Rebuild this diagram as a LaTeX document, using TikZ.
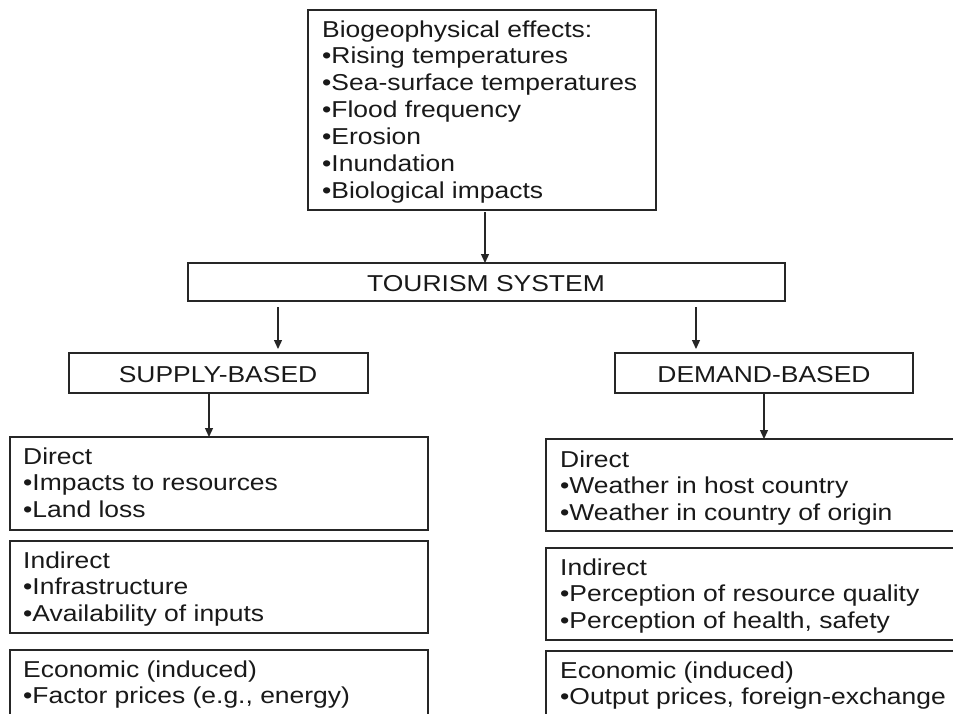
\documentclass[tikz,border=0pt]{standalone}
\usepackage{fontspec}
\setmainfont[FakeStretch=1.15]{Liberation Sans}
\usetikzlibrary{arrows.meta}
\tikzset{
  box/.style={draw=black!85, line width=1.8pt, inner sep=0pt, outer sep=0pt, anchor=north west},
  txt/.style={inner sep=0pt, text=black!90, font=\fontsize{23}{26.9}\selectfont},
  arr/.style={draw=black!85, line width=1.3pt, -{Triangle[length=9pt,width=8pt]}}
}
\begin{document}
\begin{tikzpicture}[x=1pt, y=-1pt]
\useasboundingbox (0,0) rectangle (953,713);
\clip (0,0) rectangle (953,713);
% boxes
\node[box, minimum width=348pt, minimum height=200pt] (top) at (308,10) {};
\node[box, minimum width=597pt, minimum height=38pt] (tour) at (188,263) {};
\node[box, minimum width=299pt, minimum height=40pt] (supply) at (69,353) {};
\node[box, minimum width=298pt, minimum height=40pt] (demand) at (615,353) {};
\node[box, minimum width=418pt, minimum height=93pt] (sdir) at (10,437) {};
\node[box, minimum width=418pt, minimum height=92pt] (sind) at (10,541) {};
\node[box, minimum width=418pt, minimum height=100pt] (seco) at (10,650) {};
\node[box, minimum width=430pt, minimum height=92pt] (ddir) at (546,439) {};
\node[box, minimum width=430pt, minimum height=92pt] (dind) at (546,548) {};
\node[box, minimum width=430pt, minimum height=100pt] (deco) at (546,651) {};
% texts
\node[txt, anchor=base west] (ttop) at (322,37) {\vtop{\hbox{Biogeophysical effects:}\hbox{•Rising temperatures}\hbox{•Sea-surface temperatures}\hbox{•Flood frequency}\hbox{•Erosion}\hbox{•Inundation}\hbox{•Biological impacts}}};
\node[txt, anchor=base] (ttour) at (486,291) {TOURISM SYSTEM};
\node[txt, anchor=base] (tsupply) at (218,382) {SUPPLY-BASED};
\node[txt, anchor=base] (tdemand) at (764,382) {DEMAND-BASED};
\node[txt, anchor=base west] (tsdir) at (23,464) {\vtop{\hbox{Direct}\hbox{•Impacts to resources}\hbox{•Land loss}}};
\node[txt, anchor=base west] (tsind) at (23,568) {\vtop{\hbox{Indirect}\hbox{•Infrastructure}\hbox{•Availability of inputs}}};
\node[txt, anchor=base west] (tseco) at (23,677) {\vtop{\hbox{Economic (induced)}\hbox{•Factor prices (e.g., energy)}}};
\node[txt, anchor=base west] (tddir) at (560,467) {\vtop{\hbox{Direct}\hbox{•Weather in host country}\hbox{•Weather in country of origin}}};
\node[txt, anchor=base west] (tdind) at (560,575) {\vtop{\hbox{Indirect}\hbox{•Perception of resource quality}\hbox{•Perception of health, safety}}};
\node[txt, anchor=base west] (tdeco) at (560,678) {\vtop{\hbox{Economic (induced)}\hbox{•Output prices, foreign-exchange}}};
% connector x positions
\coordinate (xa) at (485,0);
\coordinate (xb) at (278,0);
\coordinate (xc) at (696,0);
\coordinate (xd) at (209,0);
\coordinate (xe) at (764,0);
% arrows
\draw[arr, shorten <=2pt] (top.south -| xa) -- (tour.north -| xa);
\draw[arr, shorten <=6pt, shorten >=4pt] (tour.south -| xb) -- (supply.north -| xb);
\draw[arr, shorten <=6pt, shorten >=4pt] (tour.south -| xc) -- (demand.north -| xc);
\draw[arr] (supply.south -| xd) -- (sdir.north -| xd);
\draw[arr] (demand.south -| xe) -- (ddir.north -| xe);
\end{tikzpicture}
\end{document}
